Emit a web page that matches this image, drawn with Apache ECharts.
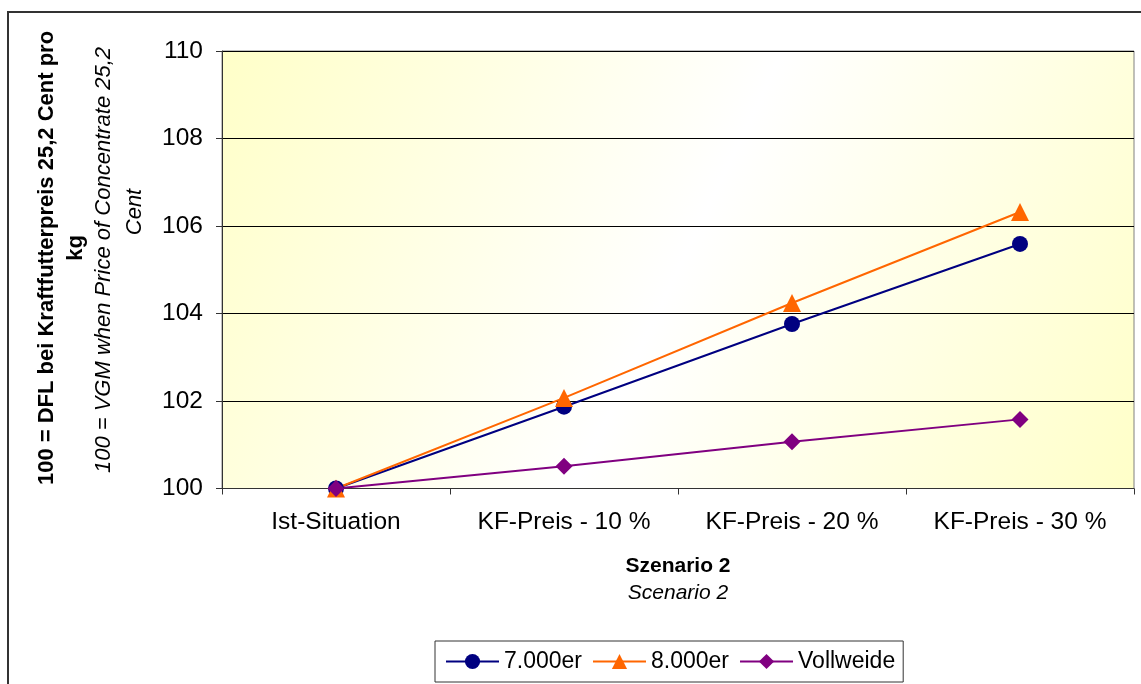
<!DOCTYPE html>
<html>
<head>
<meta charset="utf-8">
<script src="https://cdn.jsdelivr.net/npm/echarts@6/dist/echarts.min.js"></script>
<style>html,body{margin:0;padding:0;background:#fff;}#c{width:1141px;height:684px;}</style>
</head>
<body>
<div id="c"></div>
<script>
const categories = ['Ist-Situation', 'KF-Preis - 10 %', 'KF-Preis - 20 %', 'KF-Preis - 30 %'];
const s7000 = [100, 101.87, 103.76, 105.59];
const s8000 = [100, 102.07, 104.24, 106.32];
const vollweide = [100, 100.51, 101.07, 101.58];
const yTicks = {min: 100, max: 110, interval: 2};
const seriesNames = ['7.000er', '8.000er', 'Vollweide'];

const FONT = '"Liberation Sans", Arial, sans-serif';
const chart = echarts.init(document.getElementById('c'), null, {renderer: 'canvas'});
chart.setOption({
  animation: false,
  textStyle: {fontFamily: FONT, color: '#000'},
  grid: {
    left: 222, right: 7, top: 51, bottom: 195.5,
    show: true, borderColor: '#808080', borderWidth: 1,
    backgroundColor: new echarts.graphic.LinearGradient(0, 0, 1, 1, [
      {offset: 0, color: '#FFFFC8'},
      {offset: 0.5, color: '#FFFFFF'},
      {offset: 1, color: '#FFFFC8'}
    ])
  },
  xAxis: {
    type: 'category',
    data: categories,
    boundaryGap: true,
    axisLine: {lineStyle: {color: '#333', width: 1}},
    axisTick: {show: true, length: 6, lineStyle: {color: '#333'}},
    axisLabel: {fontSize: 24.5, color: '#000', margin: 21, fontFamily: FONT},
    name: '{b|Szenario 2}\n{i|Scenario 2}',
    nameLocation: 'middle',
    nameGap: 64,
    nameTextStyle: {
      rich: {
        b: {fontSize: 21, fontWeight: 'bold', color: '#000', fontFamily: FONT, lineHeight: 27},
        i: {fontSize: 21, fontStyle: 'italic', color: '#000', fontFamily: FONT, lineHeight: 27}
      }
    }
  },
  yAxis: {
    type: 'value',
    min: yTicks.min, max: yTicks.max, interval: yTicks.interval,
    axisLine: {show: true, lineStyle: {color: '#333', width: 1}},
    axisTick: {show: true, length: 6, lineStyle: {color: '#333'}},
    axisLabel: {fontSize: 24.5, color: '#000', margin: 19, fontFamily: FONT},
    splitLine: {show: true, lineStyle: {color: '#000', width: 1}}
  },
  legend: {
    left: 435, top: 641,
    padding: [9, 8, 9, 10],
    borderColor: '#333', borderWidth: 1,
    itemWidth: 53, itemHeight: 19, itemGap: 10,
    textStyle: {fontSize: 23, color: '#000', fontFamily: FONT},
    data: seriesNames
  },
  series: [
    {name: seriesNames[0], type: 'line', data: s7000, symbol: 'circle', symbolSize: 16,
     lineStyle: {color: '#000080', width: 2}, itemStyle: {color: '#000080'}},
    {name: seriesNames[1], type: 'line', data: s8000, symbol: 'triangle', symbolSize: 18,
     lineStyle: {color: '#FF6600', width: 2}, itemStyle: {color: '#FF6600'}},
    {name: seriesNames[2], type: 'line', data: vollweide, symbol: 'diamond', symbolSize: 17,
     lineStyle: {color: '#800080', width: 2}, itemStyle: {color: '#800080'}}
  ],
  graphic: [
    {type: 'rect', shape: {x: 8, y: 12, width: 1200, height: 700}, style: {fill: 'none', stroke: '#333', lineWidth: 2}, silent: true},
    {type: 'text', x: 47, y: 258, rotation: Math.PI / 2,
     style: {text: '100 = DFL bei Kraftfutterpreis 25,2 Cent pro', font: 'bold 22px ' + FONT, fill: '#000', align: 'center', verticalAlign: 'middle'}},
    {type: 'text', x: 76, y: 248, rotation: Math.PI / 2,
     style: {text: 'kg', font: 'bold 22px ' + FONT, fill: '#000', align: 'center', verticalAlign: 'middle'}},
    {type: 'text', x: 104, y: 260, rotation: Math.PI / 2,
     style: {text: '100 = VGM when Price of Concentrate 25,2', font: 'italic 22px ' + FONT, fill: '#000', align: 'center', verticalAlign: 'middle'}},
    {type: 'text', x: 135, y: 212, rotation: Math.PI / 2,
     style: {text: 'Cent', font: 'italic 22px ' + FONT, fill: '#000', align: 'center', verticalAlign: 'middle'}}
  ]
});
</script>
</body>
</html>
